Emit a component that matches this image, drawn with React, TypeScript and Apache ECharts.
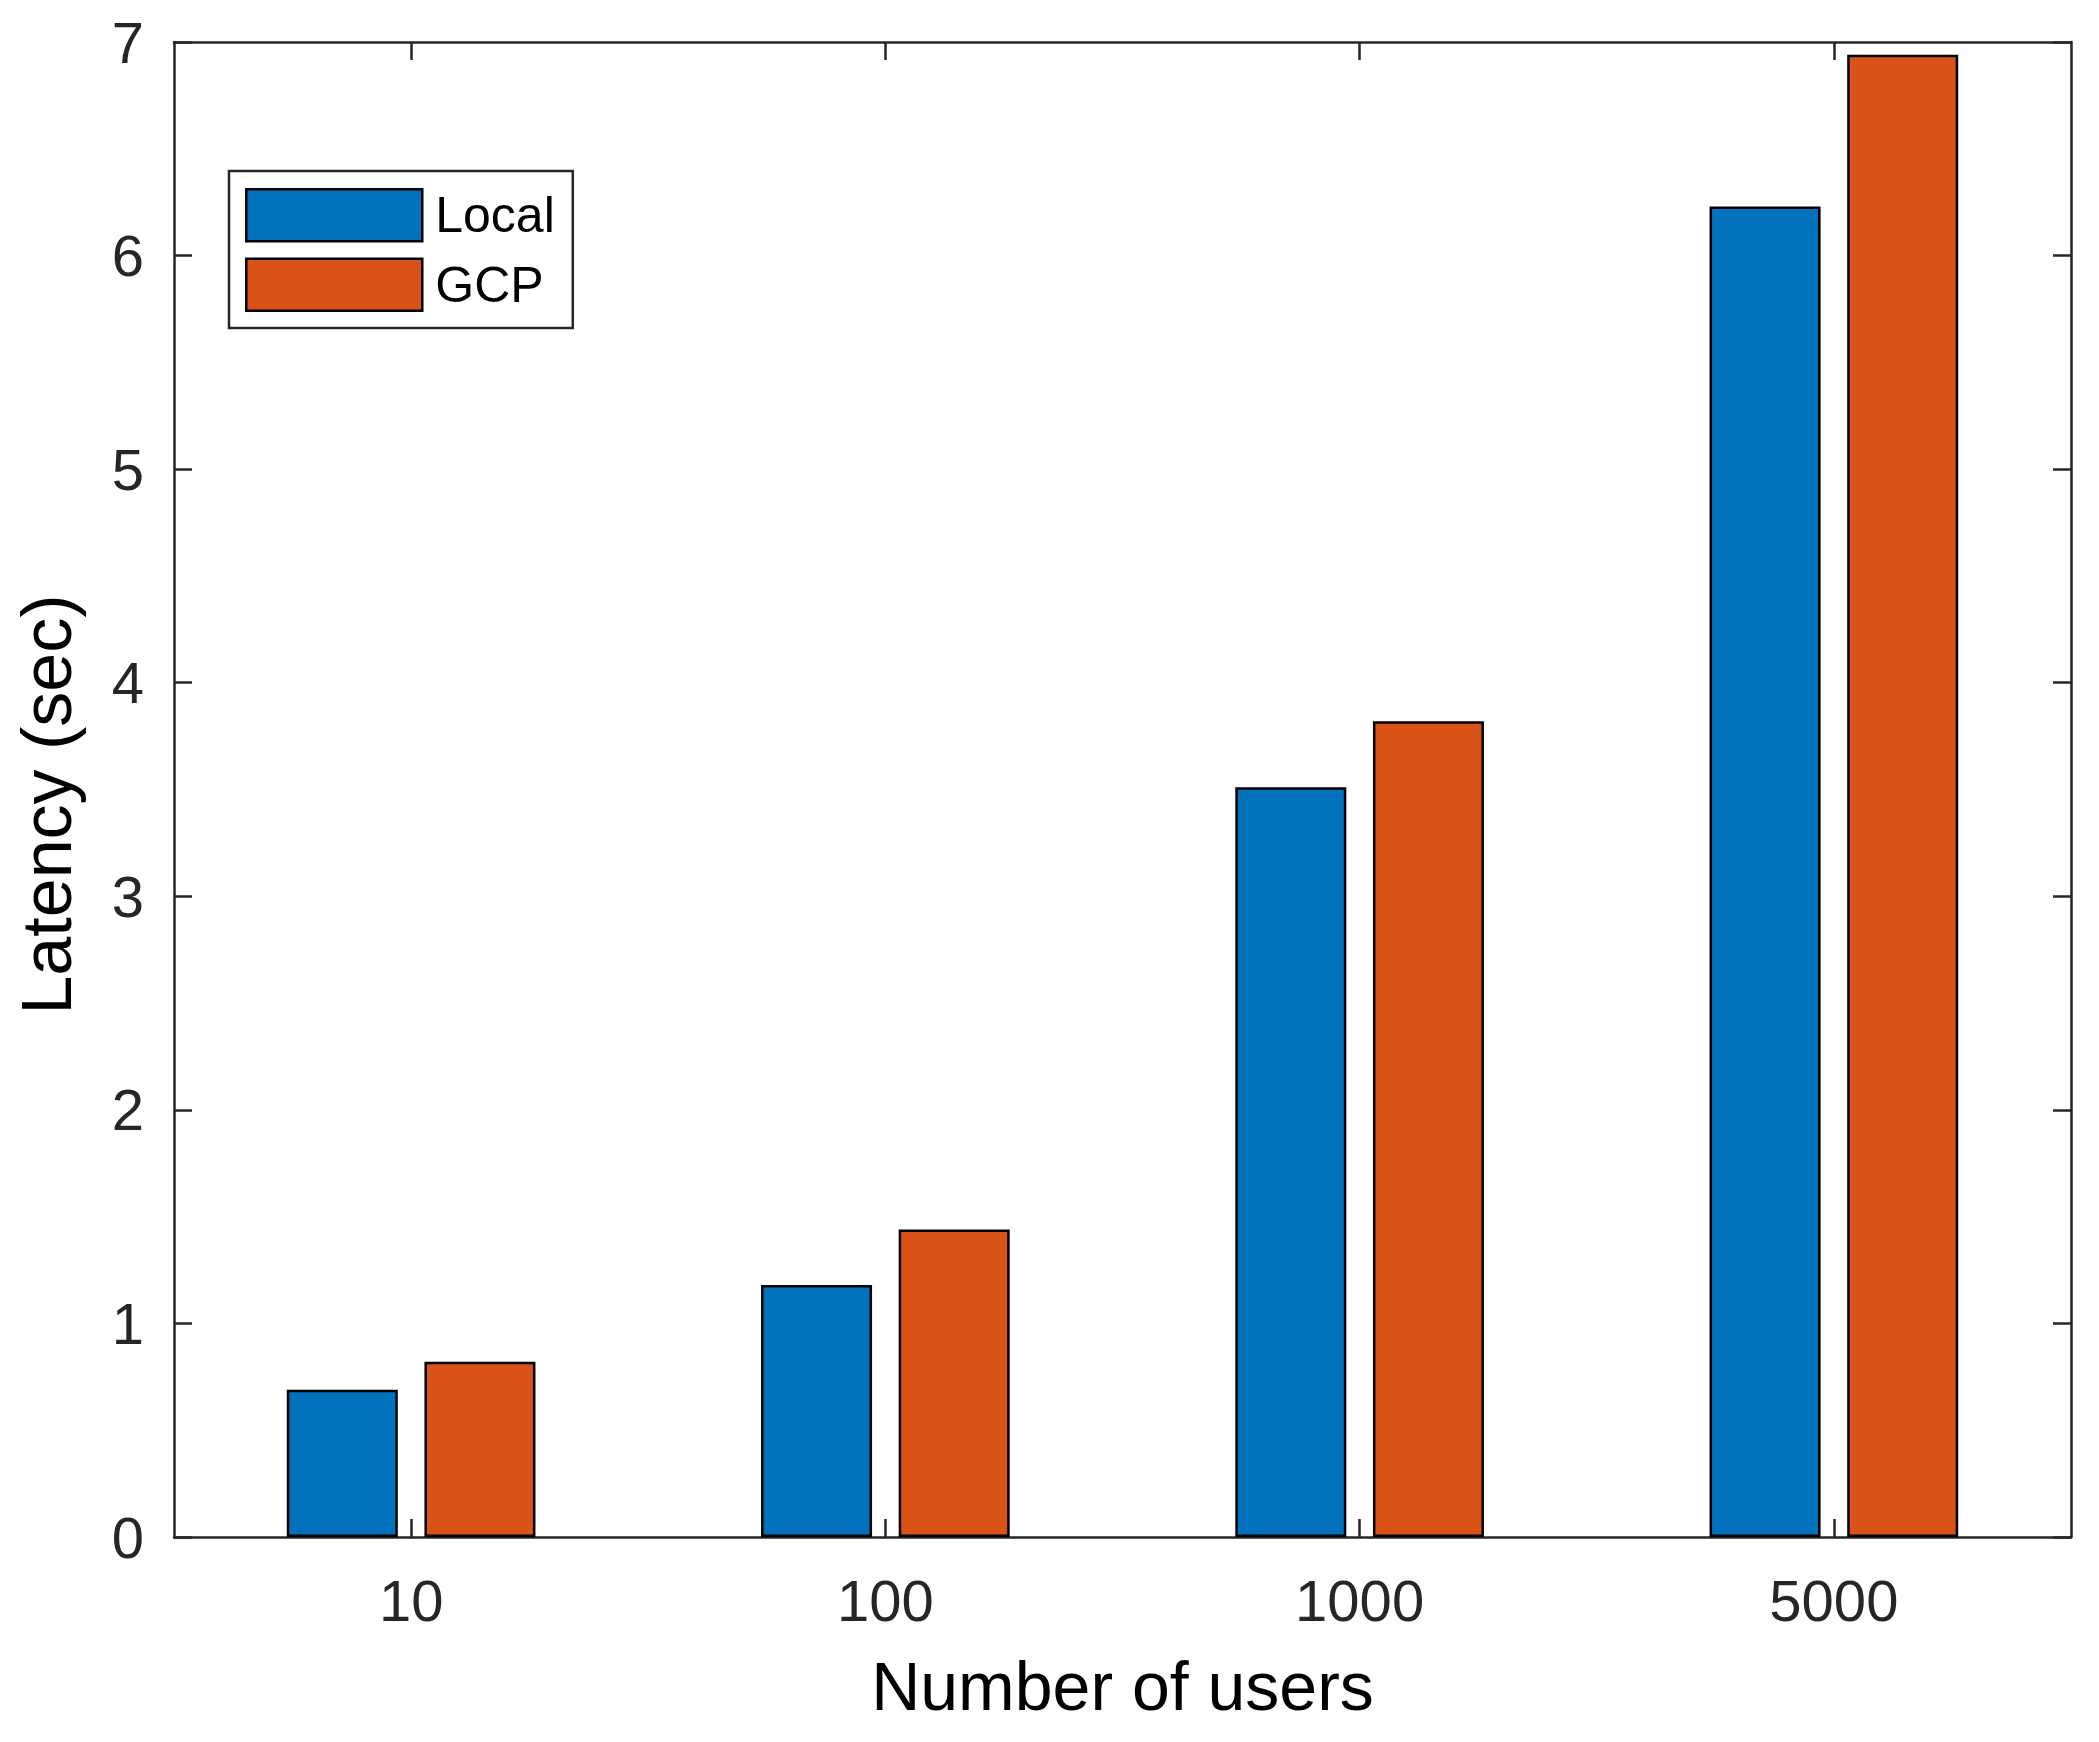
import React, { useEffect, useRef } from "react";
import * as echarts from "echarts";

const categories = ["10", "100", "1000", "5000"];
const localValues = [0.69, 1.18, 3.51, 6.23];
const gcpValues = [0.82, 1.44, 3.82, 6.94];
const seriesNames = ["Local", "GCP"];
const yTicks = { min: 0, max: 7, interval: 1 };

const FONT = "'Liberation Sans', Arial, Helvetica, sans-serif";
const AXIS = "#262626";

export default function App() {
  const ref = useRef<HTMLDivElement>(null);
  useEffect(() => {
    if (!ref.current) return;
    const chart = echarts.init(ref.current, undefined, { renderer: "svg" });
    const tickStyle = { show: true, inside: true, length: 18, lineStyle: { color: AXIS, width: 2.5 } };
    const lineStyle = { show: true, onZero: false, lineStyle: { color: AXIS, width: 2.5 } };
    chart.setOption({
      animation: false,
      backgroundColor: "#ffffff",
      textStyle: { fontFamily: FONT },
      grid: { left: 174, top: 42, width: 1897, height: 1495, containLabel: false },
      legend: {
        left: 229,
        top: 171,
        orient: "vertical",
        padding: [17, 18, 16, 16],
        itemWidth: 176,
        itemHeight: 52,
        itemGap: 15,
        borderColor: AXIS,
        borderWidth: 2.5,
        backgroundColor: "#ffffff",
        icon: "rect",
        textStyle: { fontSize: 50, color: "#000", fontFamily: FONT, padding: [0, 0, 0, 8] },
        itemStyle: { borderColor: "#000", borderWidth: 2.5 },
        data: seriesNames,
      },
      xAxis: [
        {
          type: "category",
          data: categories,
          position: "bottom",
          axisLine: lineStyle,
          axisTick: { ...tickStyle, alignWithLabel: true },
          axisLabel: { fontSize: 58, color: AXIS, margin: 34, fontFamily: FONT },
          name: "Number of users",
          nameLocation: "middle",
          nameGap: 115,
          nameTextStyle: { fontSize: 68, color: "#000", fontFamily: FONT },
          splitLine: { show: false },
        },
        {
          type: "category",
          data: categories,
          position: "top",
          axisLine: lineStyle,
          axisTick: { ...tickStyle, alignWithLabel: true },
          axisLabel: { show: false },
          splitLine: { show: false },
        },
      ],
      yAxis: [
        {
          type: "value",
          min: yTicks.min,
          max: yTicks.max,
          interval: yTicks.interval,
          position: "left",
          axisLine: lineStyle,
          axisTick: tickStyle,
          axisLabel: { fontSize: 58, color: AXIS, margin: 30, fontFamily: FONT },
          splitLine: { show: false },
          name: "Latency (sec)",
          nameLocation: "middle",
          nameGap: 92,
          nameTextStyle: { fontSize: 70, color: "#000", fontFamily: FONT, padding: [0, 30, 0, 0] },
        },
        {
          type: "value",
          min: yTicks.min,
          max: yTicks.max,
          interval: yTicks.interval,
          position: "right",
          axisLine: lineStyle,
          axisTick: tickStyle,
          axisLabel: { show: false },
          splitLine: { show: false },
        },
      ],
      series: [
        {
          name: seriesNames[0],
          type: "bar",
          data: localValues,
          barWidth: 111,
          barGap: "24%",
          itemStyle: { color: "#0072BD", borderColor: "#000", borderWidth: 2.5 },
        },
        {
          name: seriesNames[1],
          type: "bar",
          data: gcpValues,
          barWidth: 111,
          barGap: "24%",
          itemStyle: { color: "#D95319", borderColor: "#000", borderWidth: 2.5 },
        },
      ],
    });
    return () => chart.dispose();
  }, []);
  return (
    <div
      ref={ref}
      style={{ position: "fixed", left: 0, top: 0, width: 2099, height: 1742, background: "#fff" }}
    />
  );
}
